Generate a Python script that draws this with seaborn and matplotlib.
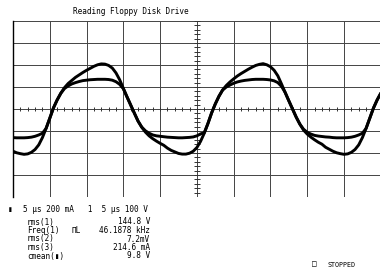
import numpy as np
import pandas as pd
import matplotlib
matplotlib.use('Agg')
import matplotlib.pyplot as plt
import seaborn as sns

# time base: 5 us/div, 10 divisions -> 0..50 us, sampled every 0.5 us
tempo_us = [i * 0.5 for i in range(101)]

# trace 1 (voltage, the larger near-sine), in divisions
canal_1 = [
    -1.92, -1.99, -2.03, -2.06, -2.04, -1.97, -1.84, -1.63, -1.30, -0.88,
    -0.42, 0.05, 0.41, 0.72, 0.97, 1.16, 1.30, 1.44, 1.55, 1.66,
    1.76, 1.85, 1.94, 2.01, 2.05, 2.04, 1.98, 1.86, 1.64, 1.33,
    0.94, 0.55, 0.18, -0.19, -0.55, -0.83, -1.05, -1.22, -1.35, -1.46,
    -1.56, -1.65, -1.78, -1.88, -1.95, -2.02, -2.05, -2.05, -2.01, -1.92,
    -1.75, -1.47, -1.10, -0.66, -0.18, 0.23, 0.58, 0.87, 1.07, 1.23,
    1.37, 1.50, 1.61, 1.71, 1.81, 1.90, 1.98, 2.03, 2.06, 2.01,
    1.92, 1.76, 1.51, 1.14, 0.75, 0.37, 0.00, -0.37, -0.69, -0.96,
    -1.14, -1.28, -1.40, -1.51, -1.60, -1.74, -1.83, -1.92, -1.99, -2.03,
    -2.06, -2.04, -1.97, -1.84, -1.63, -1.30, -0.88, -0.42, 0.04, 0.41,
    0.72,
]

# trace 3 (current, the flattened one), in divisions
canal_3 = [
    -1.30, -1.31, -1.31, -1.31, -1.30, -1.28, -1.24, -1.18, -1.10, -0.88,
    -0.42, 0.05, 0.41, 0.71, 0.93, 1.05, 1.14, 1.20, 1.25, 1.29,
    1.31, 1.33, 1.34, 1.35, 1.35, 1.35, 1.34, 1.31, 1.24, 1.12,
    0.92, 0.55, 0.18, -0.19, -0.55, -0.82, -0.99, -1.10, -1.18, -1.22,
    -1.24, -1.26, -1.28, -1.29, -1.30, -1.31, -1.31, -1.30, -1.29, -1.27,
    -1.22, -1.13, -1.08, -0.66, -0.18, 0.23, 0.58, 0.86, 1.00, 1.09,
    1.17, 1.23, 1.27, 1.30, 1.32, 1.34, 1.35, 1.35, 1.35, 1.34,
    1.32, 1.28, 1.20, 1.03, 0.75, 0.37, 0.00, -0.37, -0.69, -0.92,
    -1.06, -1.14, -1.20, -1.23, -1.25, -1.27, -1.28, -1.30, -1.31, -1.31,
    -1.31, -1.30, -1.28, -1.24, -1.18, -1.10, -0.88, -0.42, 0.04, 0.41,
    0.72,
]

titulo = 'Reading Floppy Disk Drive'
escalas = '5 \u00b5s 200 mA   1  5 \u00b5s 100 V'
medidas_nomes = ['rms(1)', 'Freq(1)', 'rms(2)', 'rms(3)', 'cmean(\u25ae)']
medidas_valores = ['144.8 V', '46.1878 kHz', '7.2mV', '214.6 mA', '9.8 V']

dados = pd.DataFrame({'t': tempo_us, 'c1': canal_1, 'c3': canal_3})

sns.set_style('white')
plt.rcParams['font.family'] = ['DejaVu Sans Mono', 'DejaVu Sans']

W, H = 380, 272
fig = plt.figure(figsize=(W / 100, H / 100), dpi=100)
ax = fig.add_axes([13 / W, 1 - 197 / H, 367.8 / W, 176 / H])

# graticule
for xv in np.arange(0, 51, 5):
    ax.axvline(xv, color='#444444', lw=0.7, zorder=1)
for yv in np.arange(-4, 5, 1):
    ax.axhline(yv, color='#444444', lw=0.7, zorder=1)
ax.vlines(np.arange(0, 50.1, 1), -0.1, 0.1, color='#333333', lw=0.7, zorder=1)
ax.hlines(np.arange(-4, 4.01, 0.2), 24.6, 25.4, color='#333333', lw=0.7, zorder=1)

# os dois traços
sns.lineplot(data=dados, x='t', y='c1', color='black', lw=2.1, ax=ax, zorder=3)
sns.lineplot(data=dados, x='t', y='c3', color='black', lw=2.1, ax=ax, zorder=3)

ax.set_xlim(0, 50)
ax.set_ylim(-4, 4)
ax.set_xticks([])
ax.set_yticks([])
ax.set_xlabel('')
ax.set_ylabel('')
for lado in ['top', 'right', 'bottom']:
    ax.spines[lado].set_visible(False)
ax.spines['left'].set_color('black')
ax.spines['left'].set_linewidth(1.0)


def texto(x, y, s, tamanho=5.6, **kw):
    fig.text(x / W, 1 - y / H, s, fontsize=tamanho, color='black', va='center', **kw)


texto(73, 12, titulo)
texto(8, 210, '\u25ae')
texto(23, 210, escalas)

# bloco de medidas
linhas_y = [222, 230.5, 239, 247.5, 256]
for y, nome, valor in zip(linhas_y, medidas_nomes, medidas_valores):
    texto(27, y, nome)
    texto(150, y, valor, ha='right')
texto(72, 230.5, '\u03a0L')

texto(312, 264, '\u25a1')
texto(327, 265, 'STOPPED', tamanho=4.8)

fig.savefig('out.png', dpi=100)
